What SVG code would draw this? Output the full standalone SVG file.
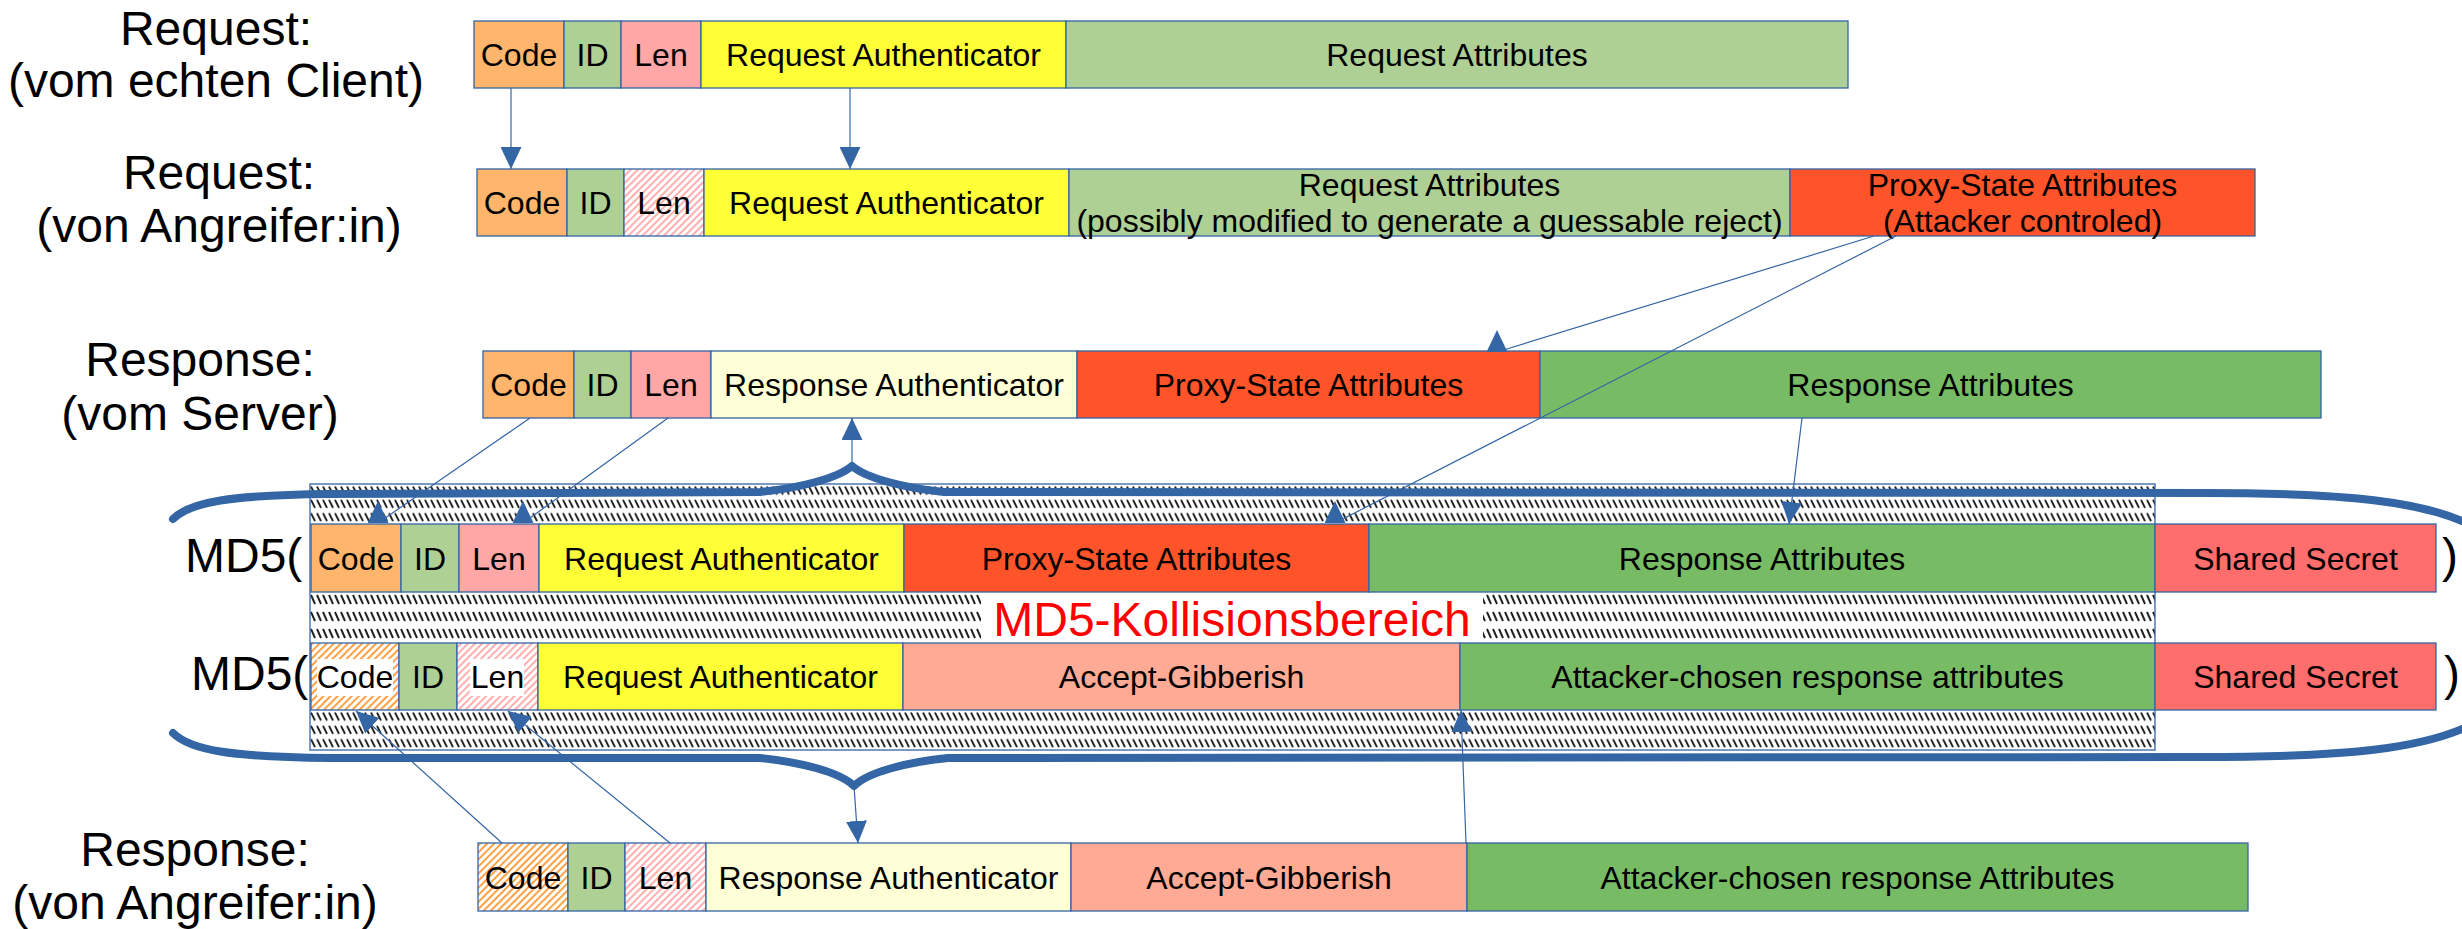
<svg xmlns="http://www.w3.org/2000/svg" width="2462" height="929" viewBox="0 0 2462 929">
  <style>
    .f { stroke: #3465a4; stroke-width: 1.3; }
    .code { fill: #ffb66c; }
    .id { fill: #afd095; }
    .len { fill: #ffa6a6; }
    .reqauth { fill: #ffff38; }
    .reqattr { fill: #afd095; }
    .proxy { fill: #ff5429; }
    .respauth { fill: #ffffd7; }
    .respattr { fill: #77bc65; }
    .secret { fill: #ff6d6d; }
    .gib { fill: #ffaa95; }
    .t { font-family: "Liberation Sans", Arial, sans-serif; font-size: 32px; text-anchor: middle; fill: #000; }
    .lbl { font-family: "Liberation Sans", Arial, sans-serif; font-size: 48px; fill: #000; }
    .mid { text-anchor: middle; }
    .red { fill: #ff0000; }
    .conn { fill: none; stroke: #3465a4; stroke-width: 1.2; }
    .brace { fill: none; stroke: #3465a4; stroke-width: 8; stroke-linecap: round; stroke-linejoin: round; }
  </style>
  <defs>
    <marker id="head" viewBox="0 0 22 21" refX="22" refY="10.5" markerWidth="22" markerHeight="21" markerUnits="userSpaceOnUse" orient="auto">
      <path d="M0,0 L22,10.5 L0,21 z" fill="#3465a4"/>
    </marker>
    <marker id="headUp" viewBox="0 0 22 21" refX="0" refY="10.5" markerWidth="22" markerHeight="21" markerUnits="userSpaceOnUse" orient="-90">
      <path d="M0,0 L22,10.5 L0,21 z" fill="#3465a4"/>
    </marker>
    <pattern id="hatchPink" width="5" height="5" patternUnits="userSpaceOnUse" patternTransform="rotate(45)">
      <rect width="5" height="5" fill="#fff"/>
      <line x1="1" y1="0" x2="1" y2="5" stroke="#ffa6a6" stroke-width="1.8"/>
    </pattern>
    <pattern id="hatchOrange" width="5" height="5" patternUnits="userSpaceOnUse" patternTransform="rotate(45)">
      <rect width="5" height="5" fill="#fff"/>
      <line x1="1" y1="0" x2="1" y2="5" stroke="#ff972f" stroke-width="1.8"/>
    </pattern>
    <!-- dashed zebra texture of the collision area -->
    <pattern id="zebra" width="6" height="13.333" patternUnits="userSpaceOnUse">
      <rect width="6" height="13.333" fill="#fff"/>
      <line x1="1" y1="2.5" x2="5" y2="10.5" stroke="#1e1e1e" stroke-width="1.9"/>
    </pattern>
    <pattern id="zebraMid" width="6" height="17" patternUnits="userSpaceOnUse">
      <rect width="6" height="17" fill="#fff"/>
      <line x1="1" y1="3" x2="5" y2="12" stroke="#1e1e1e" stroke-width="1.9"/>
    </pattern>
  </defs>

  <!-- collision area -->
  <g id="collision-area">
    <rect x="310" y="484" width="1845" height="266" fill="#fff"/>
    <rect x="0" y="0" width="1845" height="40" fill="url(#zebra)" transform="translate(310,484)"/>
    <rect x="0" y="0" width="1845" height="51" fill="url(#zebraMid)" transform="translate(310,592)"/>
    <rect x="0" y="0" width="1845" height="40" fill="url(#zebra)" transform="translate(310,710)"/>
    <rect x="310" y="484" width="1845" height="266" fill="none" stroke="#3465a4" stroke-width="1.3"/>
    <rect x="981" y="593" width="502" height="49" fill="#fff"/>
    <text x="1232" y="636" class="lbl mid red">MD5-Kollisionsbereich</text>
  </g>

  <!-- request from the genuine client -->
  <g id="req-client">
    <rect class="f code" x="474" y="21" width="90" height="67"/>
    <rect class="f id" x="564" y="21" width="57" height="67"/>
    <rect class="f len" x="621" y="21" width="80" height="67"/>
    <rect class="f reqauth" x="701" y="21" width="365" height="67"/>
    <rect class="f reqattr" x="1066" y="21" width="782" height="67"/>
    <text class="t" x="519" y="66">Code</text>
    <text class="t" x="592.5" y="66">ID</text>
    <text class="t" x="661" y="66">Len</text>
    <text class="t" x="883.5" y="66">Request Authenticator</text>
    <text class="t" x="1457" y="66">Request Attributes</text>
  </g>

  <!-- request from the attacker -->
  <g id="req-attacker">
    <rect class="f code" x="477" y="169" width="90" height="67"/>
    <rect class="f id" x="567" y="169" width="57" height="67"/>
    <rect class="f" x="624" y="169" width="80" height="67" fill="url(#hatchPink)"/>
    <rect class="f reqauth" x="704" y="169" width="365" height="67"/>
    <rect class="f reqattr" x="1069" y="169" width="721" height="67"/>
    <rect class="f proxy" x="1790" y="169" width="465" height="67"/>
    <text class="t" x="522" y="214">Code</text>
    <text class="t" x="595.5" y="214">ID</text>
    <text class="t" x="664" y="214">Len</text>
    <text class="t" x="886.5" y="214">Request Authenticator</text>
    <text class="t" x="1429.5" y="195.5">Request Attributes</text>
    <text class="t" x="1429.5" y="231.5">(possibly modified to generate a guessable reject)</text>
    <text class="t" x="2022.5" y="195.5">Proxy-State Attributes</text>
    <text class="t" x="2022.5" y="231.5">(Attacker controled)</text>
  </g>

  <!-- response from the server -->
  <g id="resp-server">
    <rect class="f code" x="483" y="351" width="91" height="67"/>
    <rect class="f id" x="574" y="351" width="57" height="67"/>
    <rect class="f len" x="631" y="351" width="80" height="67"/>
    <rect class="f respauth" x="711" y="351" width="366" height="67"/>
    <rect class="f proxy" x="1077" y="351" width="463" height="67"/>
    <rect class="f respattr" x="1540" y="351" width="781" height="67"/>
    <text class="t" x="528.5" y="396">Code</text>
    <text class="t" x="602.5" y="396">ID</text>
    <text class="t" x="671" y="396">Len</text>
    <text class="t" x="894" y="396">Response Authenticator</text>
    <text class="t" x="1308.5" y="396">Proxy-State Attributes</text>
    <text class="t" x="1930.5" y="396">Response Attributes</text>
  </g>

  <!-- MD5 input of the genuine response -->
  <g id="md5-genuine">
    <rect class="f code" x="311" y="524" width="90" height="68"/>
    <rect class="f id" x="401" y="524" width="58" height="68"/>
    <rect class="f len" x="459" y="524" width="80" height="68"/>
    <rect class="f reqauth" x="539" y="524" width="365" height="68"/>
    <rect class="f proxy" x="904" y="524" width="465" height="68"/>
    <rect class="f respattr" x="1369" y="524" width="786" height="68"/>
    <rect class="f secret" x="2155" y="524" width="281" height="68"/>
    <text class="t" x="356" y="569.5">Code</text>
    <text class="t" x="430" y="569.5">ID</text>
    <text class="t" x="499" y="569.5">Len</text>
    <text class="t" x="721.5" y="569.5">Request Authenticator</text>
    <text class="t" x="1136.5" y="569.5">Proxy-State Attributes</text>
    <text class="t" x="1762" y="569.5">Response Attributes</text>
    <text class="t" x="2295.5" y="569.5">Shared Secret</text>
    <text class="lbl" x="185" y="572">MD5(</text>
    <text class="lbl" x="2442" y="572">)</text>
  </g>

  <!-- MD5 input of the forged response -->
  <g id="md5-forged">
    <rect class="f" x="311" y="643" width="88" height="67" fill="url(#hatchOrange)"/>
    <rect class="f id" x="399" y="643" width="58" height="67"/>
    <rect class="f" x="457" y="643" width="81" height="67" fill="url(#hatchPink)"/>
    <rect class="f reqauth" x="538" y="643" width="365" height="67"/>
    <rect class="f gib" x="903" y="643" width="557" height="67"/>
    <rect class="f respattr" x="1460" y="643" width="695" height="67"/>
    <rect class="f secret" x="2155" y="643" width="281" height="67"/>
    <rect x="317" y="659" width="76" height="37" fill="#fff"/>
    <rect x="470" y="659" width="54" height="37" fill="#fff"/>
    <text class="t" x="355" y="688">Code</text>
    <text class="t" x="428" y="688">ID</text>
    <text class="t" x="497.5" y="688">Len</text>
    <text class="t" x="720.5" y="688">Request Authenticator</text>
    <text class="t" x="1181.5" y="688">Accept-Gibberish</text>
    <text class="t" x="1807.5" y="688">Attacker-chosen response attributes</text>
    <text class="t" x="2295.5" y="688">Shared Secret</text>
    <text class="lbl" x="191" y="690">MD5(</text>
    <text class="lbl" x="2444" y="690">)</text>
  </g>

  <!-- forged response sent by the attacker -->
  <g id="resp-attacker">
    <rect class="f" x="478" y="843" width="90" height="68" fill="url(#hatchOrange)"/>
    <rect class="f id" x="568" y="843" width="57" height="68"/>
    <rect class="f" x="625" y="843" width="81" height="68" fill="url(#hatchPink)"/>
    <rect class="f respauth" x="706" y="843" width="365" height="68"/>
    <rect class="f gib" x="1071" y="843" width="396" height="68"/>
    <rect class="f respattr" x="1467" y="843" width="781" height="68"/>
    <text class="t" x="523" y="888.5">Code</text>
    <text class="t" x="596.5" y="888.5">ID</text>
    <text class="t" x="665.5" y="888.5">Len</text>
    <text class="t" x="888.5" y="888.5">Response Authenticator</text>
    <text class="t" x="1269" y="888.5">Accept-Gibberish</text>
    <text class="t" x="1857.5" y="888.5">Attacker-chosen response Attributes</text>
  </g>

  <!-- curly braces around both MD5 inputs -->
  <g id="braces">
    <path class="brace" d="M173,519 C190,502 230,495 330,494 L760,492 C800,488 838,478 852,466 C866,478 904,488 944,492 L2200,493 C2340,493 2430,500 2480,530"/>
    <path class="brace" d="M173,733 C190,750 230,757 330,758 L760,758 C800,762 840,772 854,786 C868,772 908,762 948,758 L2200,757 C2340,757 2430,750 2480,720"/>
  </g>

  <!-- connectors -->
  <g id="connectors">
    <path class="conn" d="M511,88 L511,169" marker-end="url(#head)"/>
    <path class="conn" d="M850,88 L850,169" marker-end="url(#head)"/>
    <path class="conn" d="M1874,236 L1497,352" marker-end="url(#headUp)"/>
    <path class="conn" d="M1896,236 L1335,523" marker-end="url(#headUp)"/>
    <path class="conn" d="M530,418 L378,523" marker-end="url(#headUp)"/>
    <path class="conn" d="M668,418 L523,523" marker-end="url(#headUp)"/>
    <path class="conn" d="M1802,418 L1789,524" marker-end="url(#head)"/>
    <path class="conn" d="M852,466 L852,418" marker-end="url(#head)"/>
    <path class="conn" d="M854,786 L858,843" marker-end="url(#head)"/>
    <path class="conn" d="M502,843 L356,711" marker-end="url(#head)"/>
    <path class="conn" d="M670,843 L508,711" marker-end="url(#head)"/>
    <path class="conn" d="M1466,843 L1461,710" marker-end="url(#head)"/>
  </g>

  <!-- row captions -->
  <g id="captions">
    <text class="lbl mid" x="216" y="45">Request:</text>
    <text class="lbl mid" x="216" y="97">(vom echten Client)</text>
    <text class="lbl mid" x="219" y="189">Request:</text>
    <text class="lbl mid" x="219" y="242">(von Angreifer:in)</text>
    <text class="lbl mid" x="200" y="376">Response:</text>
    <text class="lbl mid" x="200" y="430">(vom Server)</text>
    <text class="lbl mid" x="195" y="866">Response:</text>
    <text class="lbl mid" x="195" y="919">(von Angreifer:in)</text>
  </g>
</svg>
